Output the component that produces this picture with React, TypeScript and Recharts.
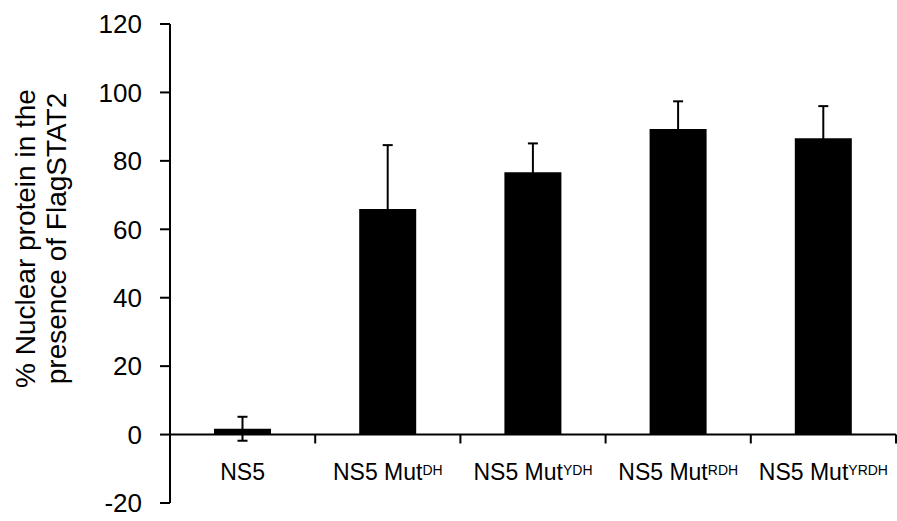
import React from 'react';
import { BarChart, Bar, XAxis, YAxis, ErrorBar, ReferenceLine } from 'recharts';

const categories = ['NS5', 'NS5 Mut', 'NS5 Mut', 'NS5 Mut', 'NS5 Mut'];
const superscripts = ['', 'DH', 'YDH', 'RDH', 'YRDH'];
const means = [1.7, 65.9, 76.7, 89.3, 86.6];
const errors = [3.5, 18.7, 8.4, 8.1, 9.4];
const yTicks = [-20, 0, 20, 40, 60, 80, 100, 120];

// right edge of each category slot, where the small ticks under the zero line go
const boundaries = categories.map((_, i) => i + 1);

const data = categories.map((name, i) => ({
  key: name + superscripts[i],
  value: means[i],
  err: errors[i],
  edge: boundaries[i],
}));

const FONT = '"Liberation Sans", Arial, sans-serif';

const CategoryTick = (props: any) => {
  const { x, y, payload } = props;
  const i = payload.index;
  return (
    <text x={x} y={y - 23} textAnchor="middle" fontFamily={FONT} fontSize={23} fill="#000">
      {categories[i]}
      {superscripts[i] && (
        <tspan fontSize={14} dy={-5}>
          {superscripts[i]}
        </tspan>
      )}
    </text>
  );
};

const YLabel = (props: any) => {
  const { viewBox } = props;
  const cy = viewBox.y + viewBox.height / 2 - 25;
  return (
    <text
      transform={`rotate(-90, 41, ${cy})`}
      x={41}
      y={cy}
      textAnchor="middle"
      fontFamily={FONT}
      fontSize={28}
      fill="#000"
    >
      <tspan x={41} dy={-6}>% Nuclear  protein in the</tspan>
      <tspan x={41} dy={31}>presence of FlagSTAT2</tspan>
    </text>
  );
};

const App: React.FC = () => {
  return (
    <div style={{ position: 'absolute', left: 0, top: 0, width: 897, height: 521, background: '#fff' }}>
      <BarChart width={897} height={521} data={data} margin={{ top: 24, right: 1, bottom: 0, left: 0 }}>
        <XAxis
          dataKey="key"
          height={18}
          axisLine={false}
          tickLine={false}
          tickSize={0}
          tickMargin={0}
          interval={0}
          tick={<CategoryTick />}
        />
        <XAxis xAxisId="b" dataKey="edge" type="number" domain={[0, categories.length]} allowDataOverflow hide />
        <YAxis
          width={170}
          domain={[-20, 120]}
          ticks={yTicks}
          interval={0}
          axisLine={{ stroke: '#000', strokeWidth: 2 }}
          tickLine={{ stroke: '#000', strokeWidth: 2 }}
          tickSize={10}
          tickMargin={18}
          tick={{ fill: '#000', fontSize: 26, fontFamily: FONT }}
          label={{ content: <YLabel /> }}
        />
        <Bar dataKey="value" fill="#000" barSize={57} isAnimationActive={false}>
          <ErrorBar dataKey="err" width={5} stroke="#000" strokeWidth={2} isAnimationActive={false} />
        </Bar>
        <ReferenceLine y={0} stroke="#000" strokeWidth={2} />
        {boundaries.map((b) => (
          <ReferenceLine
            key={b}
            xAxisId="b"
            segment={[
              { x: b, y: 0 },
              { x: b, y: -2.6 },
            ]}
            stroke="#000"
            strokeWidth={2}
            ifOverflow="visible"
          />
        ))}
      </BarChart>
    </div>
  );
};

export default App;
